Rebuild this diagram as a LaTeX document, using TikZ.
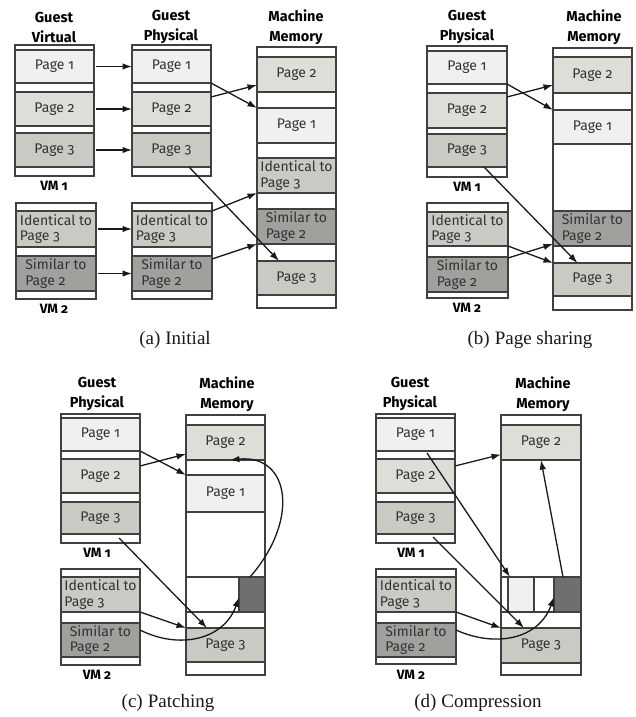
\documentclass[tikz,border=0pt]{standalone}
\usepackage{fontspec}
\usetikzlibrary{arrows.meta,calc}
\newfontfamily\pgfont{Fira Sans}[Numbers=OldStyle]
\newfontfamily\capfont{Liberation Serif}
\definecolor{pgone}{HTML}{F0F0EE}
\definecolor{pgtwo}{HTML}{DDDED8}
\definecolor{pgthree}{HTML}{C9CAC3}
\definecolor{pgsim}{HTML}{A0A19C}
\definecolor{pgdark}{HTML}{6E706F}
\newcommand\pgrect[7]{%
  \node[pgbox,fill=#6,minimum width={(#4-#2)*1pt},minimum height={(#5-#3)*1pt}] (#1) at ({(#2+#4)/2},{(#3+#5)/2}) {};
  \node[pgtxt] (#1-t) at (#1.center) {#7};}
\begin{document}
\begin{tikzpicture}[x=1pt,y=-1pt,
  pgbox/.style={draw=black!75, line width=1.1pt, inner sep=0pt, outer sep=0pt, rectangle},
  pgtxt/.style={font=\pgfont\fontsize{14}{15.5}\selectfont, text=black!80, align=left, inner sep=0pt},
  hdr/.style={font=\pgfont\bfseries\fontsize{14.5}{20}\selectfont, align=center, text=black},
  vm/.style={font=\pgfont\bfseries\fontsize{13.5}{15}\selectfont, text=black},
  captxt/.style={font=\capfont\fontsize{19}{22}\selectfont, text=black!90},
  arr/.style={draw=black!90, line width=1.3pt, -{Latex[length=9.5pt,width=6.5pt]}},
]
\useasboundingbox[fill=white] (0,0) rectangle (636,717);

% ---------------- (a) Initial ----------------
\node[hdr] (a-hgv) at (54,27) {Guest\\Virtual};
\node[hdr] (a-hgp) at (171,27) {Guest\\Physical};
\node[hdr] (a-hmm) at (296,27) {Machine\\Memory};
\pgrect{a-gvbox}{15}{45}{94}{176}{white}{}
\pgrect{a-gv1}{15}{50}{94}{83}{pgone}{Page 1}
\pgrect{a-gv2}{15}{92}{94}{126}{pgtwo}{Page 2}
\pgrect{a-gv3}{15}{133}{94}{167}{pgthree}{Page 3}
\pgrect{a-gvbox2}{16}{203}{96}{299}{white}{}
\pgrect{a-gvid}{16}{211}{96}{247}{pgthree}{Identical to\\Page 3}
\pgrect{a-gvsim}{16}{256}{96}{291}{pgsim}{Similar to\\Page 2}
\pgrect{a-gpbox}{132}{45}{211}{176}{white}{}
\pgrect{a-gp1}{132}{50}{211}{83}{pgone}{Page 1}
\pgrect{a-gp2}{132}{92}{211}{126}{pgtwo}{Page 2}
\pgrect{a-gp3}{132}{133}{211}{167}{pgthree}{Page 3}
\pgrect{a-gpbox2}{132}{203}{212}{299}{white}{}
\pgrect{a-gpid}{132}{211}{212}{247}{pgthree}{Identical to\\Page 3}
\pgrect{a-gpsim}{132}{256}{212}{291}{pgsim}{Similar to\\Page 2}
\pgrect{a-mmbox}{257}{47}{336}{308}{white}{}
\pgrect{a-mm2}{257}{57}{336}{92}{pgtwo}{Page 2}
\pgrect{a-mm1}{257}{108}{336}{143}{pgone}{Page 1}
\pgrect{a-mmid}{257}{158}{336}{193}{pgthree}{Identical to\\Page 3}
\pgrect{a-mmsim}{257}{209}{336}{244}{pgsim}{Similar to\\Page 2}
\pgrect{a-mm3}{257}{261}{336}{295}{pgthree}{Page 3}
\node[vm] (a-vm1) at (54,186) {VM 1};
\node[vm] (a-vm2) at (54,309) {VM 2};
\node[captxt] (a-cap) at (175,340) {(a)\hspace{5pt}Initial};
\draw[arr,shorten <=2pt] (a-gv1.east) -- (a-gp1.west);
\draw[arr,shorten <=2pt] (a-gv2.east) -- (a-gp2.west);
\draw[arr,shorten <=2pt] (a-gv3.east) -- (a-gp3.west);
\draw[arr,shorten <=2pt] (a-gvid.east) -- (a-gpid.west);
\draw[arr,shorten <=2pt] (a-gvsim.east) -- (a-gpsim.west);
\draw[arr] (a-gp1.south east) -- (a-mm1.north west);
\draw[arr] ([yshift=-5pt]a-gp2.north east) -- ([yshift=-10.5pt]a-mm2.west);
\draw[arr] ([xshift=17.5pt]a-gp3.south) -- ([xshift=-17.5pt]a-mm3.north);
\draw[arr] (a-gpid.north east) -- (a-mmid.south west);
\draw[arr] ([yshift=-3pt]a-gpsim.north east) -- (a-mmsim.south west);

% ---------------- (b) Page sharing ----------------
\node[hdr] (b-hgp) at (467,27) {Guest\\Physical};
\node[hdr] (b-hmm) at (594,27) {Machine\\Memory};
\pgrect{b-gpbox}{427}{46}{507}{177}{white}{}
\pgrect{b-gp1}{427}{51}{507}{84}{pgone}{Page 1}
\pgrect{b-gp2}{427}{93}{507}{128}{pgtwo}{Page 2}
\pgrect{b-gp3}{427}{134}{507}{167}{pgthree}{Page 3}
\pgrect{b-gpbox2}{427}{203}{508}{298}{white}{}
\pgrect{b-gpid}{427}{212}{508}{246}{pgthree}{Identical to\\Page 3}
\pgrect{b-gpsim}{427}{257}{508}{292}{pgsim}{Similar to\\Page 2}
\pgrect{b-mmbox}{553}{48}{632}{310}{white}{}
\pgrect{b-mm2}{553}{57}{632}{93}{pgtwo}{Page 2}
\pgrect{b-mm1}{553}{110}{632}{144}{pgone}{Page 1}
\pgrect{b-mmsim}{553}{211}{632}{246}{pgsim}{Similar to\\Page 2}
\pgrect{b-mm3}{553}{263}{632}{296}{pgthree}{Page 3}
\node[vm] (b-vm1) at (467,187) {VM 1};
\node[vm] (b-vm2) at (467,308) {VM 2};
\node[captxt] (b-cap) at (530,340) {(b)\hspace{5pt}Page sharing};
\draw[arr] (b-gp1.south east) -- (b-mm1.north west);
\draw[arr] ([yshift=-4pt]b-gp2.north east) -- ([yshift=-10pt]b-mm2.west);
\draw[arr] ([xshift=17pt]b-gp3.south) -- ([xshift=-15pt]b-mm3.north);
\draw[arr] (b-gpid.south east) -- (b-mm3.north west);
\draw[arr] ([yshift=-1pt]b-gpsim.north east) -- ([yshift=2pt]b-mmsim.south west);

% ---------------- (c) Patching ----------------
\node[hdr] (c-hgp) at (97,394) {Guest\\Physical};
\node[hdr] (c-hmm) at (227,394) {Machine\\Memory};
\pgrect{c-gpbox}{61}{414}{140}{543}{white}{}
\pgrect{c-gp1}{61}{418}{140}{451}{pgone}{Page 1}
\pgrect{c-gp2}{61}{459}{140}{493}{pgtwo}{Page 2}
\pgrect{c-gp3}{61}{502}{140}{534}{pgthree}{Page 3}
\pgrect{c-gpbox2}{61}{569}{140}{665}{white}{}
\pgrect{c-gpid}{61}{577}{140}{612}{pgthree}{Identical to\\Page 3}
\pgrect{c-gpsim}{61}{623}{140}{657}{pgsim}{Similar to\\Page 2}
\pgrect{c-mmbox}{186}{415}{265}{675}{white}{}
\pgrect{c-mm2}{186}{425}{265}{460}{pgtwo}{Page 2}
\pgrect{c-mm1}{186}{475}{265}{512}{pgone}{Page 1}
\pgrect{c-row}{186}{577}{265}{612}{white}{}
\pgrect{c-dark}{239}{577}{265}{612}{pgdark}{}
\pgrect{c-mm3}{186}{628}{265}{662}{pgthree}{Page 3}
\node[vm] (c-vm1) at (97,553) {VM 1};
\node[vm] (c-vm2) at (97,675) {VM 2};
\node[captxt] (c-cap) at (168,703) {(c)\hspace{5pt}Patching};
\draw[arr] (c-gp1.south east) -- (c-mm1.north west);
\draw[arr] ([yshift=-7pt]c-gp2.north east) -- ([yshift=-11.5pt]c-mm2.west);
\draw[arr] ([xshift=18.5pt,yshift=-4pt]c-gp3.south) -- ([xshift=-18.5pt]c-mm3.north);
\draw[arr] (c-gpid.south east) -- (c-mm3.north west);
\draw[arr] ([yshift=-7pt]c-gpsim.north east) .. controls +(40,20) and +(-15,42) .. ([yshift=-3pt]c-dark.west);
\draw[arr] ([xshift=-2pt]c-dark.north) .. controls +(50,-57) and +(60,-6) .. ([xshift=4.5pt]c-mm2.south);

% ---------------- (d) Compression ----------------
\node[hdr] (d-hgp) at (410,394) {Guest\\Physical};
\node[hdr] (d-hmm) at (543,394) {Machine\\Memory};
\pgrect{d-gpbox}{376}{414}{455}{543}{white}{}
\pgrect{d-gp1}{376}{418}{455}{451}{pgone}{Page 1}
\pgrect{d-gp2}{376}{459}{455}{493}{pgtwo}{Page 2}
\pgrect{d-gp3}{376}{502}{455}{534}{pgthree}{Page 3}
\pgrect{d-gpbox2}{376}{569}{456}{664}{white}{}
\pgrect{d-gpid}{376}{577}{456}{612}{pgthree}{Identical to\\Page 3}
\pgrect{d-gpsim}{376}{623}{456}{657}{pgsim}{Similar to\\Page 2}
\pgrect{d-mmbox}{501}{415}{581}{675}{white}{}
\pgrect{d-mm2}{501}{425}{581}{460}{pgtwo}{Page 2}
\pgrect{d-row}{501}{577}{581}{612}{white}{}
\pgrect{d-small}{508}{577}{534}{612}{pgone}{}
\pgrect{d-dark}{554}{577}{581}{612}{pgdark}{}
\pgrect{d-mm3}{501}{628}{581}{663}{pgthree}{Page 3}
\node[vm] (d-vm1) at (411,553) {VM 1};
\node[vm] (d-vm2) at (411,675) {VM 2};
\node[captxt] (d-cap) at (478,703) {(d)\hspace{5pt}Compression};
\draw[arr] ([xshift=11.5pt,yshift=-2pt]d-gp1.south) -- ([xshift=2pt]d-small.north west);
\draw[arr] ([yshift=-7pt]d-gp2.north east) -- ([yshift=-12pt]d-mm2.west);
\draw[arr] ([xshift=17.5pt,yshift=-3pt]d-gp3.south) -- ([xshift=-17pt]d-mm3.north);
\draw[arr] (d-gpid.south east) -- (d-mm3.north west);
\draw[arr] ([yshift=-7pt]d-gpsim.north east) .. controls +(40,18) and +(-15,42) .. ([yshift=-2.5pt]d-dark.west);
\draw[arr] ([xshift=-4.5pt]d-dark.north) -- (d-mm2.south);
\end{tikzpicture}
\end{document}
